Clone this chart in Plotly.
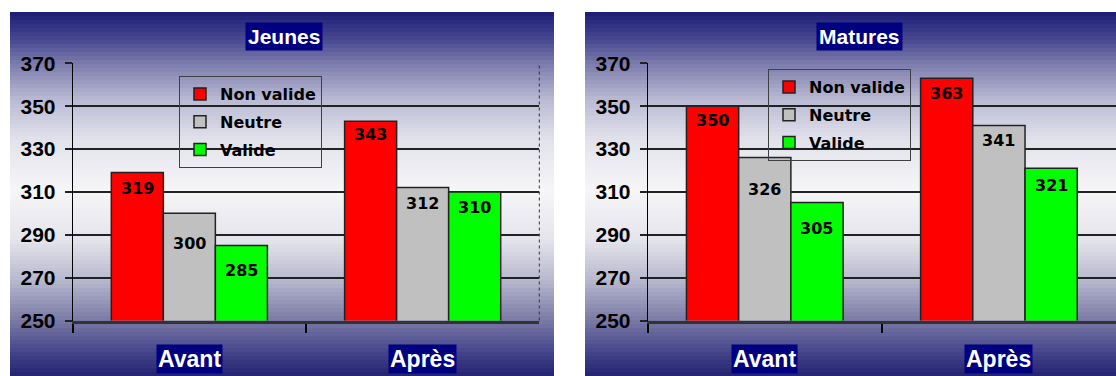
import plotly.graph_objects as go

# ---------------- data ----------------
categories = ["Avant", "Après"]
series_names = ["Non valide", "Neutre", "Valide"]
jeunes_non_valide = [319, 343]
jeunes_neutre = [300, 312]
jeunes_valide = [285, 310]
matures_non_valide = [350, 363]
matures_neutre = [326, 341]
matures_valide = [305, 321]
panel_titles = ["Jeunes", "Matures"]
y_ticks = [250, 270, 290, 310, 330, 350, 370]

# ---------------- style ----------------
W, H = 1116, 376
colors = ["#ff0000", "#c0c0c0", "#00ff00"]
BARGAP = 0.331
# pixel offset of each value label below the bar top (per panel, per series, per category)
label_offsets = [
    [[16, 13], [30, 16], [25, 16]],
    [[14, 15], [32, 15], [26, 17]],
]

def px_x(p):
    return p / W

def px_y(p):
    return 1 - p / H

fig = go.Figure()

panels = [
    dict(data=[jeunes_non_valide, jeunes_neutre, jeunes_valide], xa="x", ya="y", legend="legend"),
    dict(data=[matures_non_valide, matures_neutre, matures_valide], xa="x2", ya="y2", legend="legend2"),
]

for p, panel in enumerate(panels):
    for k, (name, vals) in enumerate(zip(series_names, panel["data"])):
        fig.add_trace(go.Bar(
            x=categories, y=vals, name=name,
            xaxis=panel["xa"], yaxis=panel["ya"],
            legend=panel["legend"], legendgroup=f"g{k}",
            marker=dict(color=colors[k], line=dict(color="#222222", width=1.5)),
            hoverinfo="x+y+name",
        ))

# ---------------- gradient backgrounds ----------------
stops = [
    (12, (28, 28, 118)), (40, (72, 72, 146)), (63, (122, 122, 172)),
    (100, (186, 186, 212)), (140, (226, 226, 236)), (190, (246, 246, 248)),
    (240, (228, 228, 236)), (280, (184, 184, 206)), (320, (122, 122, 166)),
    (350, (72, 72, 140)), (376, (34, 34, 114)),
]

def grad(yp):
    for (y0, c0), (y1, c1) in zip(stops[:-1], stops[1:]):
        if y0 <= yp <= y1:
            t = (yp - y0) / (y1 - y0)
            return "rgb(%d,%d,%d)" % tuple(round(a + (b - a) * t) for a, b in zip(c0, c1))
    return "rgb(%d,%d,%d)" % stops[-1][1]

shapes = []
for (xl, xr) in [(10, 554), (585, 1116)]:
    yp = 12
    step = 4
    while yp < 376:
        shapes.append(dict(
            type="rect", xref="paper", yref="paper", layer="below",
            x0=px_x(xl), x1=px_x(xr), y0=px_y(min(yp + step + 0.6, 376)), y1=px_y(yp),
            fillcolor=grad(yp + step / 2), line=dict(width=0),
        ))
        yp += step

# dotted right border of the left plot area
shapes.append(dict(type="line", xref="x domain", yref="y domain", x0=1, x1=1, y0=0, y1=1,
                   line=dict(color="#333333", width=1, dash="dot")))

# ---------------- annotations ----------------
annotations = []
bar_w = (1 - BARGAP) / 3
for p, panel in enumerate(panels):
    for k, vals in enumerate(panel["data"]):
        for i, v in enumerate(vals):
            annotations.append(dict(
                xref=panel["xa"], yref=panel["ya"], x=i + (k - 1) * bar_w, y=v,
                text=str(v), showarrow=False, yanchor="middle",
                yshift=-label_offsets[p][k][i],
                font=dict(family="DejaVu Sans", size=16, color="#000000", weight="bold"),
            ))
    # category labels
    for i, c in enumerate(categories):
        annotations.append(dict(
            xref=panel["xa"], yref="paper", x=i, y=px_y(359), text=c, showarrow=False,
            yanchor="middle", bgcolor="#000080", borderpad=1,
            font=dict(family="Liberation Sans", size=23, color="#ffffff", weight="bold"),
        ))

title_x = [284, 860]
for p, t in enumerate(panel_titles):
    annotations.append(dict(
        xref="paper", yref="paper", x=px_x(title_x[p]), y=px_y(36.5), text=t, showarrow=False,
        xanchor="center", yanchor="middle", bgcolor="#000080", borderpad=2,
        font=dict(family="Liberation Sans", size=21, color="#ffffff", weight="bold"),
    ))

# ---------------- axes ----------------
y_dom = [px_y(320.5), px_y(63.3)]
common_x = dict(
    type="category", showgrid=False, showticklabels=False, ticks="outside",
    tickson="boundaries", ticklen=9, tickwidth=1.5, tickcolor="#000000",
    showline=True, linecolor="#333333", linewidth=3, fixedrange=True, automargin=False,
)
common_y = dict(
    range=[250, 370], tickvals=y_ticks, showgrid=True, gridcolor="#222222", gridwidth=2,
    ticks="outside", ticklen=7, tickwidth=2, tickcolor="#222222",
    showline=True, linecolor="#000000", linewidth=1, zeroline=False,
    tickfont=dict(family="Liberation Sans", size=21, color="#000000", weight="bold"),
    ticklabelstandoff=5, fixedrange=True, automargin=False,
)

legend_common = dict(
    bgcolor="rgba(0,0,0,0)", bordercolor="#404040", borderwidth=1,
    font=dict(family="DejaVu Sans", size=16, color="#000000", weight="bold"),
    traceorder="grouped", tracegroupgap=4, xanchor="left", yanchor="top",
    itemclick=False, itemdoubleclick=False,
)

fig.update_layout(
    width=W, height=H, margin=dict(l=0, r=0, t=0, b=0, autoexpand=False),
    paper_bgcolor="#ffffff", plot_bgcolor="rgba(0,0,0,0)",
    barmode="group", bargap=BARGAP, bargroupgap=0,
    xaxis=dict(domain=[px_x(72.7), px_x(539.3)], anchor="y", **common_x),
    yaxis=dict(domain=y_dom, anchor="x", **common_y),
    xaxis2=dict(domain=[px_x(647.7), 1.0], anchor="y2", **common_x),
    yaxis2=dict(domain=y_dom, anchor="x2", **common_y),
    legend=dict(x=px_x(179), y=px_y(76), **legend_common),
    legend2=dict(x=px_x(768), y=px_y(69), **legend_common),
    shapes=shapes, annotations=annotations, showlegend=True,
)

fig.write_html("out.html")
